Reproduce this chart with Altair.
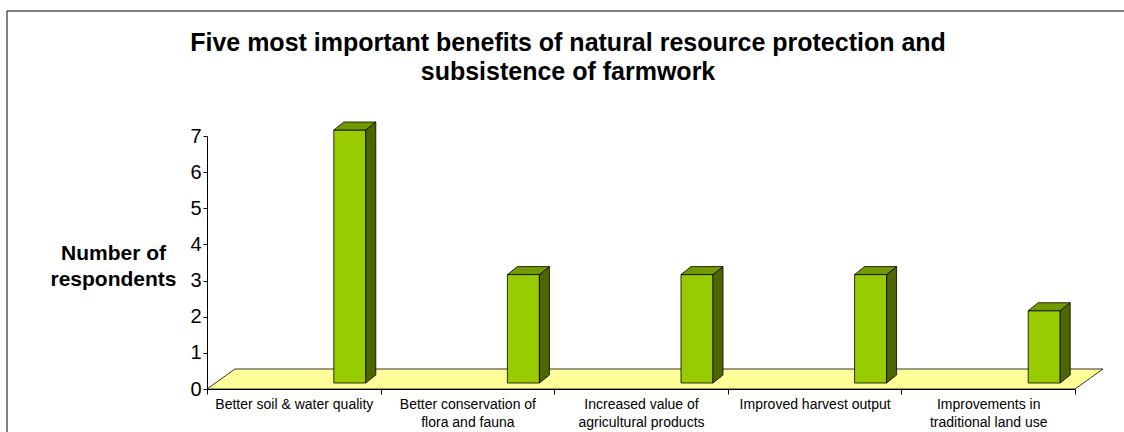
import json

import altair as alt
import pandas as pd

# Survey results: number of respondents naming each benefit
categories = [
    "Better soil & water quality",
    "Better conservation of|flora and fauna",
    "Increased value of|agricultural products",
    "Improved harvest output",
    "Improvements in|traditional land use",
]
respondents = [7, 3, 3, 3, 2]
y_ticks = [0, 1, 2, 3, 4, 5, 6, 7]

title_lines = [
    "Five most important benefits of natural resource protection and",
    "subsistence of farmwork",
]
y_title = ["Number of", "respondents"]

FONT = "Liberation Sans, Arial, sans-serif"

# plot area and padding (autosize none keeps the plot exactly here)
W, H = 868, 253
PAD = {"left": 207, "top": 136, "right": 49, "bottom": 43}
N = len(categories)
Y_MAX = y_ticks[-1]
PX_X = W / N          # pixels per category
PX_Y = H / Y_MAX      # pixels per respondent

# 3-D styling, in pixels
BAR_LEFT, BAR_RIGHT = 40, 72      # front face relative to category centre
BAR_LIFT = 6                      # columns stand a little behind the floor's front edge
DEPTH_X, DEPTH_Y = 10, 8          # column depth
FLOOR_X, FLOOR_Y = 28, 20         # floor depth

FRONT = "#99CC00"
SIDE = "#4D6600"
TOP = "#739900"
FLOOR = "#FFFF99"

xs = alt.Scale(domain=[0, N], nice=False, zero=False)
ys = alt.Scale(domain=[0, Y_MAX], nice=False, zero=False)

centres = [i + 0.5 for i in range(N)]
bars = pd.DataFrame({"cat": categories, "c": centres, "v": respondents})

side_rows, top_rows = [], []
for cat, c, v in zip(categories, centres, respondents):
    side_rows.append({"cat": cat, "x": c + BAR_RIGHT / PX_X, "y": v, "y2": 0})
    side_rows.append({"cat": cat, "x": c + (BAR_RIGHT + DEPTH_X) / PX_X,
                      "y": v + DEPTH_Y / PX_Y, "y2": DEPTH_Y / PX_Y})
    top_rows.append({"cat": cat, "y": v, "x": c + BAR_LEFT / PX_X, "x2": c + BAR_RIGHT / PX_X})
    top_rows.append({"cat": cat, "y": v + DEPTH_Y / PX_Y,
                     "x": c + (BAR_LEFT + DEPTH_X) / PX_X, "x2": c + (BAR_RIGHT + DEPTH_X) / PX_X})
side = pd.DataFrame(side_rows)
top = pd.DataFrame(top_rows)

floor = pd.DataFrame({
    "y": [0, FLOOR_Y / PX_Y],
    "x": [0, FLOOR_X / PX_X],
    "x2": [N, N + FLOOR_X / PX_X],
})

label_expr = (
    f"datum.value < {N} ? split({json.dumps(categories)}[datum.value], '|') : ''"
)

x_axis = alt.Axis(
    values=list(range(N + 1)), labelExpr=label_expr, labelOffset=PX_X / 2,
    tickSize=5, labelFontSize=14, labelLineHeight=18, labelPadding=3,
    labelFlush=False, labelOverlap=False, labelBound=False, grid=False,
    title=None, domainColor="black", tickColor="black", labelColor="black",
    labelFont=FONT,
)
y_axis = alt.Axis(
    values=y_ticks, tickCount=len(y_ticks), title=y_title, titleAngle=0,
    titleAlign="center", titleBaseline="alphabetic", titleX=-94, titleY=123,
    titleFontSize=21, titleFontWeight="bold", titleLineHeight=26, titleFont=FONT,
    labelFontSize=20, labelFont=FONT, tickSize=4, labelPadding=2, grid=False,
    labelOverlap=False, labelFlush=False, labelBound=False,
    domainColor="black", tickColor="black", labelColor="black", titleColor="black",
)

floor_layer = alt.Chart(floor).mark_area(
    orient="horizontal", fill=FLOOR, stroke="black", strokeWidth=0.8
).encode(
    y=alt.Y("y:Q", scale=ys, axis=y_axis),
    x=alt.X("x:Q", scale=xs, axis=x_axis),
    x2="x2:Q",
)

front_layer = alt.Chart(bars).mark_rect(
    fill=FRONT, stroke="black", strokeWidth=0.8,
    xOffset=BAR_LEFT, x2Offset=BAR_RIGHT, yOffset=-BAR_LIFT, y2Offset=-BAR_LIFT,
).encode(
    x=alt.X("c:Q", scale=xs, axis=x_axis),
    x2="c:Q",
    y=alt.Y("v:Q", scale=ys, axis=y_axis),
    y2=alt.datum(0),
)

side_layer = alt.Chart(side).mark_area(
    fill=SIDE, stroke="black", strokeWidth=0.8, yOffset=-BAR_LIFT, y2Offset=-BAR_LIFT,
).encode(
    x=alt.X("x:Q", scale=xs, axis=x_axis),
    y=alt.Y("y:Q", scale=ys, axis=y_axis),
    y2="y2:Q",
    detail="cat:N",
)

top_layer = alt.Chart(top).mark_area(
    orient="horizontal", fill=TOP, stroke="black", strokeWidth=0.8, yOffset=-BAR_LIFT,
).encode(
    y=alt.Y("y:Q", scale=ys, axis=y_axis),
    x=alt.X("x:Q", scale=xs, axis=x_axis),
    x2="x2:Q",
    detail="cat:N",
)

one_row = pd.DataFrame({"k": [0]})

# outer chart border
frame_layer = alt.Chart(one_row).mark_rect(
    fillOpacity=0, stroke="black", strokeWidth=1
).encode(
    x=alt.value(7 - PAD["left"]),
    x2=alt.value(W + PAD["right"] + 20),
    y=alt.value(11 - PAD["top"]),
    y2=alt.value(H + PAD["bottom"] + 20),
)

# two-line chart heading, centred over the whole frame
title_layer = alt.Chart(one_row).mark_text(
    text=title_lines, font=FONT, fontSize=25, fontWeight="bold", color="black",
    align="center", baseline="alphabetic", lineHeight=29,
).encode(
    x=alt.value(568 - PAD["left"]),
    y=alt.value(51 - PAD["top"]),
)

chart = alt.layer(
    floor_layer, front_layer, side_layer, top_layer, frame_layer, title_layer
).properties(
    width=W,
    height=H,
    padding=PAD,
    autosize=alt.AutoSizeParams(type="none"),
).configure(background="white").configure_view(stroke=None)

chart.save("out.html", embed_options={"renderer": "svg", "actions": False})
